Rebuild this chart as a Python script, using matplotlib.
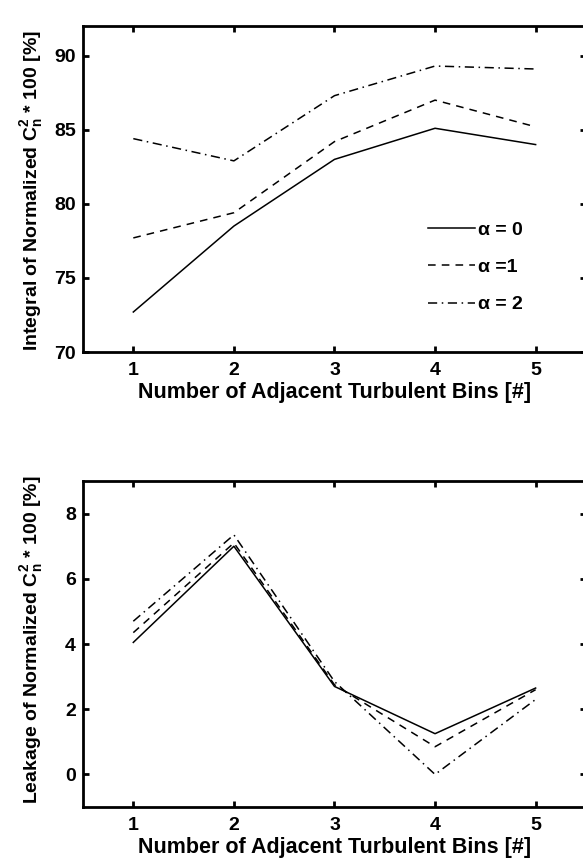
import matplotlib
matplotlib.use('Agg')
import matplotlib.pyplot as plt
from matplotlib import font_manager as fm

plt.rcParams['font.family'] = ['Liberation Sans', 'DejaVu Sans']
plt.rcParams['font.weight'] = 'bold'

# narrow face for the rotated y labels, if the system has it
names = {f.name for f in fm.fontManager.ttflist}
if 'Liberation Sans Narrow' in names:
    ylab_font, ylab_size = 'Liberation Sans Narrow', 17
else:
    ylab_font, ylab_size = 'Liberation Sans', 14
plt.rcParams['mathtext.fontset'] = 'custom'
plt.rcParams['mathtext.bf'] = ylab_font + ':bold'
plt.rcParams['mathtext.rm'] = ylab_font + ':bold'
plt.rcParams['mathtext.default'] = 'bf'

bins = [1, 2, 3, 4, 5]

# integral of normalized Cn^2 (%)
integral_a0 = [72.7, 78.5, 83.0, 85.1, 84.0]
integral_a1 = [77.7, 79.4, 84.2, 87.0, 85.2]
integral_a2 = [84.4, 82.9, 87.3, 89.3, 89.1]

# leakage of normalized Cn^2 (%)
leakage_a0 = [4.05, 7.0, 2.7, 1.25, 2.65]
leakage_a1 = [4.35, 7.1, 2.75, 0.85, 2.6]
leakage_a2 = [4.7, 7.35, 2.85, 0.0, 2.3]

alpha_labels = ['\u03b1 = 0', '\u03b1 =1', '\u03b1 = 2']
styles = ['-', (0, (5, 4)), (0, (6, 3, 1, 3))]

fig = plt.figure(figsize=(5.83, 8.59), dpi=100)
ax1 = fig.add_axes([0.1424, 0.5902, 0.8626, 0.3795])
ax2 = fig.add_axes([0.1424, 0.0605, 0.8626, 0.3795])


def style_axes(ax):
    ax.set_xlim(0.5, 5.5)
    ax.set_xticks(bins)
    for sp in ax.spines.values():
        sp.set_linewidth(2.0)
    ax.tick_params(direction='in', length=4, width=2, top=True, right=True,
                   labelsize=14)
    ax.tick_params(axis='x', pad=7)
    ax.tick_params(axis='y', pad=5)
    for lab in ax.get_xticklabels() + ax.get_yticklabels():
        lab.set_fontweight('bold')
    ax.set_xlabel('Number of Adjacent Turbulent Bins [#]', fontsize=15.5,
                  fontweight='bold', labelpad=2)


for vals, ls, lab in zip([integral_a0, integral_a1, integral_a2], styles, alpha_labels):
    ax1.plot(bins, vals, color='black', linestyle=ls, linewidth=1.1, label=lab)
ax1.set_ylim(70, 92)
ax1.set_yticks([70, 75, 80, 85, 90])
style_axes(ax1)
ax1.set_ylabel('Integral of Normalized C$_n^2$ * 100 [%]', fontsize=ylab_size,
               fontweight='bold', family=ylab_font)
ax1.yaxis.set_label_coords(-0.076, 0.494)
leg = ax1.legend(loc='lower left', bbox_to_anchor=(0.652, 0.065), frameon=False,
                 fontsize=14, handlelength=2.4, handletextpad=0.15,
                 labelspacing=1.0)
for t in leg.get_texts():
    t.set_fontweight('bold')

for vals, ls in zip([leakage_a0, leakage_a1, leakage_a2], styles):
    ax2.plot(bins, vals, color='black', linestyle=ls, linewidth=1.1)
ax2.set_ylim(-1, 9)
ax2.set_yticks([0, 2, 4, 6, 8])
style_axes(ax2)
ax2.set_ylabel('Leakage of Normalized C$_n^2$ * 100 [%]', fontsize=ylab_size,
               fontweight='bold', family=ylab_font)
ax2.yaxis.set_label_coords(-0.076, 0.512)

fig.savefig('out.png', dpi=100)
